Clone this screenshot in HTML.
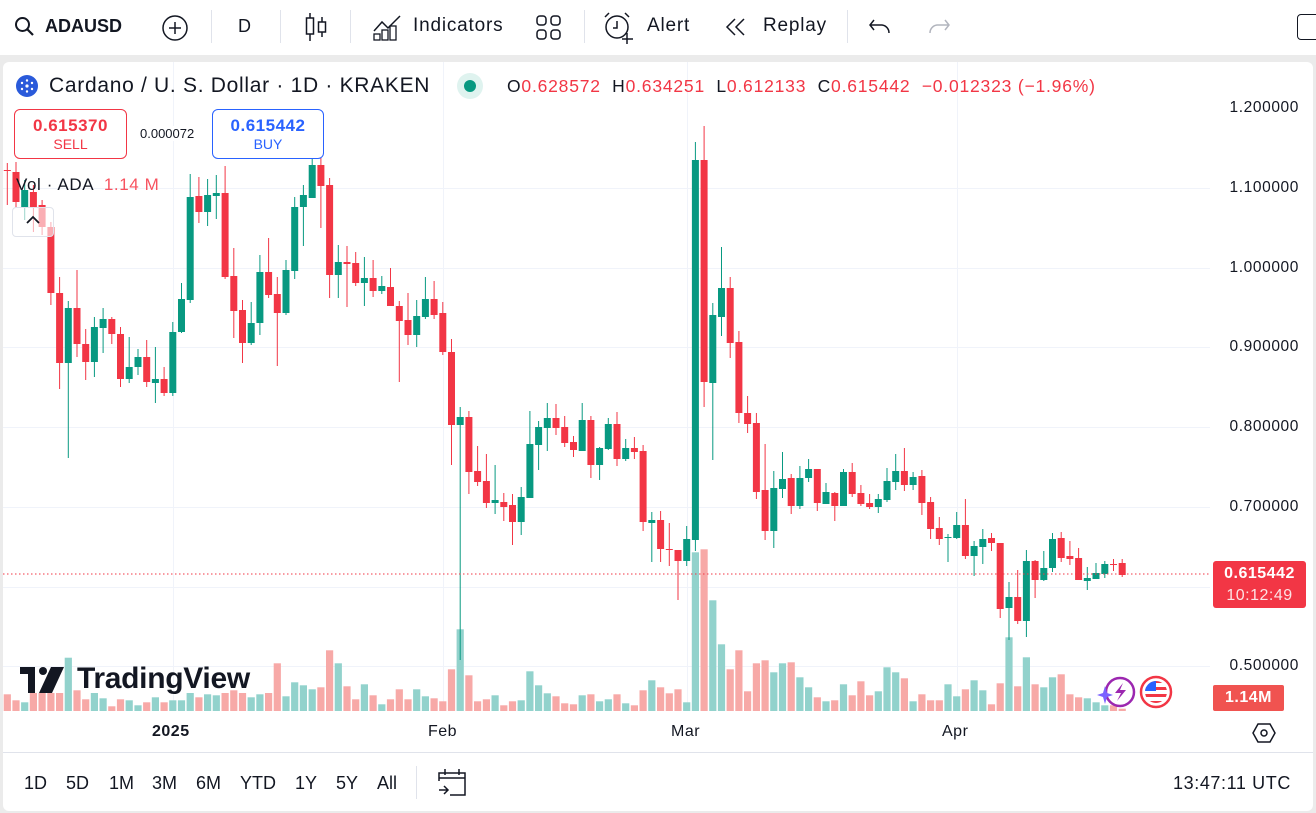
<!DOCTYPE html>
<html><head><meta charset="utf-8">
<style>
*{margin:0;padding:0;box-sizing:border-box}
body{width:1316px;height:813px;background:#ebebeb;font-family:"Liberation Sans",sans-serif;position:relative;overflow:hidden;color:#131722}
.abs{position:absolute;white-space:nowrap}
#top{position:absolute;left:0;top:0;width:1316px;height:55px;background:#fff}
#panel{position:absolute;left:3px;top:62px;width:1310px;height:749px;background:#fff;border-radius:6px}
.sep{position:absolute;width:1px;background:#e0e3eb}
.tb{font-size:19px;top:15px;letter-spacing:0.8px}
.ax{font-size:15.5px;right:17px;position:absolute;letter-spacing:0.6px}
</style></head><body>
<div id="top"></div>
<div id="panel"></div>
<svg id="ch" class="abs" style="left:0;top:0" width="1316" height="813"></svg>
<!-- toolbar -->
<svg class="abs" style="left:14px;top:16px" width="22" height="22" viewBox="0 0 22 22"><circle cx="8.5" cy="8.5" r="6.5" fill="none" stroke="#131722" stroke-width="2"/><line x1="13" y1="13" x2="19" y2="19" stroke="#131722" stroke-width="2.2"/></svg>
<div class="abs tb" style="left:45px;font-weight:bold;font-size:18px;top:16px;letter-spacing:0">ADAUSD</div>
<svg class="abs" style="left:160px;top:13px" width="30" height="30"><circle cx="15" cy="15" r="12" fill="none" stroke="#131722" stroke-width="1.5"/><line x1="15" y1="9" x2="15" y2="21" stroke="#131722" stroke-width="1.5"/><line x1="9" y1="15" x2="21" y2="15" stroke="#131722" stroke-width="1.5"/></svg>
<div class="sep" style="left:211px;top:10px;height:33px"></div>
<div class="abs tb" style="left:238px;font-size:18px;top:16px">D</div>
<div class="sep" style="left:280px;top:10px;height:33px"></div>
<svg class="abs" style="left:303px;top:11px" width="26" height="32"><line x1="7" y1="2" x2="7" y2="30" stroke="#131722" stroke-width="1.5"/><rect x="3.5" y="7" width="7" height="16" fill="#fff" stroke="#131722" stroke-width="1.5"/><line x1="19" y1="6" x2="19" y2="26" stroke="#131722" stroke-width="1.5"/><rect x="15.5" y="11" width="7" height="10" fill="#fff" stroke="#131722" stroke-width="1.5"/></svg>
<div class="sep" style="left:350px;top:10px;height:33px"></div>
<svg class="abs" style="left:372px;top:13px" width="30" height="28"><polyline points="2,18 10,9 16,15 28,3" fill="none" stroke="#131722" stroke-width="1.5"/><rect x="2" y="21" width="6" height="6" fill="none" stroke="#131722" stroke-width="1.3"/><rect x="10" y="17" width="6" height="10" fill="none" stroke="#131722" stroke-width="1.3"/><rect x="18" y="13" width="6" height="14" fill="none" stroke="#131722" stroke-width="1.3"/></svg>
<div class="abs tb" style="left:413px">Indicators</div>
<svg class="abs" style="left:535px;top:14px" width="28" height="28"><rect x="2" y="2" width="9" height="9" rx="3" fill="none" stroke="#131722" stroke-width="1.5"/><rect x="16" y="2" width="9" height="9" rx="3" fill="none" stroke="#131722" stroke-width="1.5"/><rect x="2" y="16" width="9" height="9" rx="3" fill="none" stroke="#131722" stroke-width="1.5"/><rect x="16" y="16" width="9" height="9" rx="3" fill="none" stroke="#131722" stroke-width="1.5"/></svg>
<div class="sep" style="left:584px;top:10px;height:33px"></div>
<svg class="abs" style="left:602px;top:11px" width="34" height="34"><circle cx="15" cy="16" r="11" fill="none" stroke="#131722" stroke-width="1.5"/><polyline points="15,10 15,17 11,17" fill="none" stroke="#131722" stroke-width="1.5"/><line x1="25" y1="22" x2="25" y2="33" stroke="#131722" stroke-width="1.5"/><line x1="20" y1="28" x2="31" y2="28" stroke="#131722" stroke-width="1.5"/><path d="M3 6 L7 2 M27 6 L23 2" stroke="#131722" stroke-width="1.5"/></svg>
<div class="abs tb" style="left:647px">Alert</div>
<svg class="abs" style="left:723px;top:17px" width="28" height="20"><polyline points="12,2 4,10 12,18" fill="none" stroke="#131722" stroke-width="1.5"/><polyline points="21,2 13,10 21,18" fill="none" stroke="#131722" stroke-width="1.5"/></svg>
<div class="abs tb" style="left:763px">Replay</div>
<div class="sep" style="left:847px;top:10px;height:33px"></div>
<svg class="abs" style="left:868px;top:16px" width="26" height="20"><path d="M6 4 L2 9 L6 14 M2 9 H14 A8 8 0 0 1 21 17" fill="none" stroke="#131722" stroke-width="1.5"/></svg>
<svg class="abs" style="left:925px;top:16px" width="26" height="20"><path d="M20 4 L24 9 L20 14 M24 9 H12 A8 8 0 0 0 5 17" fill="none" stroke="#b2b5be" stroke-width="1.5"/></svg>
<div class="abs" style="left:1297px;top:14px;width:30px;height:26px;border:1.5px solid #131722;border-radius:4px"></div>

<!-- legend -->
<svg class="abs" style="left:15px;top:74px" width="24" height="24"><circle cx="12" cy="12" r="11" fill="#2a5ada"/><g fill="#fff"><circle cx="12" cy="12" r="1.6"/><circle cx="12" cy="6.5" r="1.2"/><circle cx="12" cy="17.5" r="1.2"/><circle cx="7" cy="9" r="1.2"/><circle cx="17" cy="9" r="1.2"/><circle cx="7" cy="15" r="1.2"/><circle cx="17" cy="15" r="1.2"/></g></svg>
<div class="abs" style="left:49px;top:74px;font-size:21px;letter-spacing:0.7px">Cardano / U. S. Dollar · 1D · KRAKEN</div>
<div class="abs" style="left:457px;top:73px;width:26px;height:26px;border-radius:50%;background:#dff3ef"></div>
<div class="abs" style="left:464px;top:80px;width:12px;height:12px;border-radius:50%;background:#089981"></div>
<div class="abs" style="left:507px;top:76px;font-size:17.5px;letter-spacing:0.8px;color:#f23645"><span style="color:#131722">O</span>0.628572 &nbsp;<span style="color:#131722">H</span>0.634251 &nbsp;<span style="color:#131722">L</span>0.612133 &nbsp;<span style="color:#131722">C</span>0.615442 &nbsp;−0.012323 (−1.96%)</div>
<div class="abs" style="left:14px;top:109px;width:113px;height:50px;border:1px solid #f23645;border-radius:6px;background:#fff;text-align:center;color:#f23645"><div style="font-size:17px;font-weight:bold;margin-top:6px;letter-spacing:0.5px">0.615370</div><div style="font-size:14px">SELL</div></div>
<div class="abs" style="left:140px;top:126px;font-size:13px;background:#fff">0.000072</div>
<div class="abs" style="left:212px;top:109px;width:112px;height:50px;border:1px solid #2962ff;border-radius:6px;background:#fff;text-align:center;color:#2962ff"><div style="font-size:17px;font-weight:bold;margin-top:6px;letter-spacing:0.5px">0.615442</div><div style="font-size:14px">BUY</div></div>

<div class="abs" style="left:16px;top:175px;font-size:17px;letter-spacing:0.6px">Vol · ADA &nbsp;<span style="color:#f7525f">1.14 M</span></div>
<div class="abs" style="left:12px;top:207px;width:42px;height:30px;border:1px solid #e0e3eb;border-radius:4px;background:rgba(255,255,255,.6)"></div>
<svg class="abs" style="left:25px;top:215px" width="16" height="10"><polyline points="2,8 8,2 14,8" fill="none" stroke="#131722" stroke-width="1.8"/></svg>

<!-- TradingView logo -->
<svg class="abs" style="left:20px;top:667px" width="52" height="26"><rect x="0" y="0" width="15" height="7" fill="#131722"/><rect x="8" y="0" width="7" height="26" fill="#131722"/><circle cx="23" cy="4" r="4" fill="#131722"/><polygon points="31,0 44,0 32,26 19,26" fill="#131722"/></svg>
<div class="abs" style="left:77px;top:662px;font-size:30px;font-weight:bold;color:#131722;letter-spacing:-0.3px">TradingView</div>

<!-- price axis -->
<div class="ax" style="top:99px">1.200000</div>
<div class="ax" style="top:179px">1.100000</div>
<div class="ax" style="top:259px">1.000000</div>
<div class="ax" style="top:338px">0.900000</div>
<div class="ax" style="top:418px">0.800000</div>
<div class="ax" style="top:498px">0.700000</div>
<div class="ax" style="top:657px">0.500000</div>
<div class="abs" style="left:1213px;top:561px;width:93px;height:47px;background:#f23645;border-radius:3px;color:#fff;text-align:center;font-size:16px;font-weight:bold;line-height:22px;padding-top:2px;letter-spacing:0.5px">0.615442<br><span style="font-weight:normal;color:#fde2e4">10:12:49</span></div>
<div class="abs" style="left:1213px;top:685px;width:71px;height:26px;background:#f05350;border-radius:2px;color:#fff;text-align:center;font-size:16px;font-weight:bold;line-height:26px;letter-spacing:0.5px">1.14M</div>
<svg class="abs" style="left:1252px;top:722px" width="24" height="22"><polygon points="6,2 18,2 23,11 18,20 6,20 1,11" fill="none" stroke="#131722" stroke-width="1.5"/><circle cx="12" cy="11" r="3" fill="none" stroke="#131722" stroke-width="1.5"/></svg>
<svg class="abs" style="left:1096px;top:674px" width="80" height="36"><circle cx="24" cy="18" r="14" fill="#fff" stroke="#9c27b0" stroke-width="2.5"/><path d="M27 9 L19 19 H25 L21 27 L30 16 H24 Z" fill="#9c27b0"/><path d="M9 12 L11 19 L17 21 L11 23 L9 30 L7 23 L1 21 L7 19 Z" fill="#7b61ff"/><circle cx="60" cy="18" r="15" fill="#fff" stroke="#f23645" stroke-width="2.5"/><clipPath id="fl"><circle cx="60" cy="18" r="11"/></clipPath><g clip-path="url(#fl)"><rect x="48" y="6" width="24" height="24" fill="#fff"/><rect x="48" y="6" width="24" height="3" fill="#f23645"/><rect x="48" y="13" width="24" height="3" fill="#f23645"/><rect x="48" y="20" width="24" height="3" fill="#f23645"/><rect x="48" y="27" width="24" height="3" fill="#f23645"/><rect x="48" y="6" width="12" height="11" fill="#2962ff"/></g></svg>

<!-- time axis -->
<div class="abs" style="left:152px;top:723px;font-size:16px;font-weight:bold;letter-spacing:0.5px">2025</div>
<div class="abs" style="left:428px;top:723px;font-size:16px;letter-spacing:0.5px">Feb</div>
<div class="abs" style="left:671px;top:723px;font-size:16px;letter-spacing:0.5px">Mar</div>
<div class="abs" style="left:942px;top:723px;font-size:16px;letter-spacing:0.5px">Apr</div>
<div class="abs" style="left:3px;top:752px;width:1310px;height:1px;background:#e0e3eb"></div>
<div class="abs" style="left:24px;top:773px;font-size:18px">1D</div>
<div class="abs" style="left:66px;top:773px;font-size:18px">5D</div>
<div class="abs" style="left:109px;top:773px;font-size:18px">1M</div>
<div class="abs" style="left:152px;top:773px;font-size:18px">3M</div>
<div class="abs" style="left:196px;top:773px;font-size:18px">6M</div>
<div class="abs" style="left:240px;top:773px;font-size:18px">YTD</div>
<div class="abs" style="left:295px;top:773px;font-size:18px">1Y</div>
<div class="abs" style="left:336px;top:773px;font-size:18px">5Y</div>
<div class="abs" style="left:377px;top:773px;font-size:18px">All</div>
<div class="sep" style="left:416px;top:766px;height:33px"></div>
<svg class="abs" style="left:436px;top:767px" width="32" height="30"><path d="M3 14 V6 H29 V28 H14" fill="none" stroke="#131722" stroke-width="1.5"/><line x1="3" y1="11" x2="29" y2="11" stroke="#131722" stroke-width="1.5"/><line x1="9" y1="2" x2="9" y2="8" stroke="#131722" stroke-width="1.5"/><line x1="23" y1="2" x2="23" y2="8" stroke="#131722" stroke-width="1.5"/><path d="M3 23 H12 M8 19 L12 23 L8 27" fill="none" stroke="#131722" stroke-width="1.5"/></svg>
<div class="abs" style="left:1173px;top:773px;font-size:18px;letter-spacing:0.6px">13:47:11 UTC</div>

<script>
const C=[
[170,171,163,205],[172,202,162,208],[207,190,180,220],[192,207,185,232],[205,227,200,235],[227,293,222,305],[293,363,277,389],[363,308,301,458],[308,344,270,357],[344,362,329,380],
[362,327,317,377],[328,319,308,353],[319,334,317,344],[334,379,327,387],[379,367,337,383],[367,357,349,375],[357,382,340,387],[383,379,347,403],[379,393,367,396],[393,332,322,396],
[332,299,283,333],[300,197,174,303],[196,212,177,223],[212,195,179,226],[196,193,175,219],[193,277,166,279],[276,311,248,338],[310,343,300,363],[343,323,302,345],[323,272,255,335],
[272,295,238,298],[294,313,277,366],[313,270,260,315],[271,207,197,279],[207,195,185,246],[198,165,150,198],[165,186,148,228],[185,275,178,298],[275,262,245,298],[262,264,246,307],
[263,283,252,286],[283,278,257,306],[278,291,260,297],[291,286,276,294],[287,306,268,306],[306,321,301,382],[320,335,293,345],[335,316,300,347],[317,299,277,319],[299,315,281,319],
[313,352,302,355],[352,425,339,465],[425,417,407,660],[417,472,411,494],[471,482,446,486],[481,503,454,508],[503,500,465,514],[502,507,493,521],[505,522,494,545],[522,497,487,535],
[498,444,411,498],[445,427,421,470],[428,418,403,451],[418,428,404,435],[427,443,416,447],[442,450,436,457],[451,420,403,451],[420,465,416,478],[465,448,447,480],[449,424,418,450],
[424,459,412,466],[459,448,439,461],[448,452,437,459],[451,522,445,531],[523,520,512,562],[520,549,511,562],[549,550,523,566],[550,561,550,600],[561,539,526,566],[540,160,142,551],
[160,382,126,407],[383,315,303,460],[317,288,247,336],[288,343,277,358],[342,413,331,423],[413,424,396,433],[423,492,413,499],[490,531,444,540],[531,488,471,548],[489,479,452,498],
[478,506,474,514],[506,478,466,509],[478,469,459,482],[469,503,469,511],[504,492,483,504],[493,506,492,521],[506,472,469,506],[472,494,463,497],[493,504,485,506],[503,507,494,509],
[507,499,494,513],[500,481,468,502],[482,471,454,490],[471,485,448,491],[485,477,472,490],[476,503,470,515],[502,529,497,539],[528,539,517,545],[538,537,534,562],[538,525,512,539],
[525,556,499,559],[556,546,541,576],[547,539,529,564],[538,543,533,551],[543,609,543,618],[608,597,582,640],[597,621,570,624],[621,561,550,637],[561,580,560,598],[580,568,551,581],
[568,539,533,572],[538,558,532,562],[556,559,541,565],[558,580,548,580],[581,578,567,590],[579,573,563,579],[574,564,561,578],[564,565,559,571],[563,575,559,577]];
const V=[16.7,10.7,8.7,18,18,18,18,53.3,20.7,11.7,18,12.7,4.7,11.7,10.7,5.7,8.7,13.7,8.7,10.7,10.7,18,13.7,16.7,15.7,18,20.7,18,13.7,16.7,18,47.7,14.7,28.7,25.7,21.7,23.7,60.7,47.7,24.7,11.7,26.7,15.7,6.7,11.7,21.7,11.7,21.7,14.7,12.7,9.7,41.7,81.7,35.7,9.7,11.7,15.7,5.7,9.7,10.7,39.7,25.7,17.7,14.7,
7.7,6.7,15.7,16.7,9.7,11.7,16.7,7.7,5.7,20.7,30.7,23.7,17.7,21.7,8.7,158.7,161.7,110.7,66.7,41.7,60.7,19.7,47.7,50.7,38.7,47.7,48.7,33.7,23.7,13.7,9.7,10.7,26.7,15.7,29.7,15.7,19.7,43.7,38.7,32.7,9.7,16.7,10.7,10.7,26.7,14.7,21.7,30.7,20.7,6.7,27.7,73.7,24.7,53.7,26.7,23.7,33.7,36.7,16.7,13.7,12.7,8.7,5.7,5.7,2.3];
let s='';
[188,268,347,427,507,587,666].forEach(y=>s+=`<line x1="3" x2="1210" y1="${y}.5" y2="${y}.5" stroke="#f0f3fa" stroke-width="1"/>`);
[173,443,687,957].forEach(x=>s+=`<line x1="${x}.5" x2="${x}.5" y1="62" y2="711" stroke="#f0f3fa"/>`);
V.forEach((h,i)=>{const x=7.3+8.71*i;const c=C[i];const up=c[1]<c[0];s+=`<rect x="${(x-3.6).toFixed(1)}" y="${(711-h).toFixed(1)}" width="7.2" height="${h}" fill="${up?'#92d2cc':'#f7a9a7'}"/>`;});
C.forEach((c,i)=>{const x=7.3+8.71*i;const up=c[1]<c[0];const col=up?'#089981':'#f23645';const t=Math.min(c[0],c[1]),b=Math.max(c[0],c[1]);
s+=`<line x1="${x.toFixed(1)}" x2="${x.toFixed(1)}" y1="${c[2]}" y2="${c[3]}" stroke="${col}" stroke-width="1"/>`;
s+=`<rect x="${(x-3.5).toFixed(1)}" y="${t}" width="7" height="${Math.max(1,b-t)}" fill="${col}"/>`;});
s+=`<line x1="3" x2="1210" y1="574" y2="574" stroke="#f23645" stroke-width="1" stroke-dasharray="1.5,2.5"/>`;
document.getElementById('ch').innerHTML=s;
</script>
</body></html>
